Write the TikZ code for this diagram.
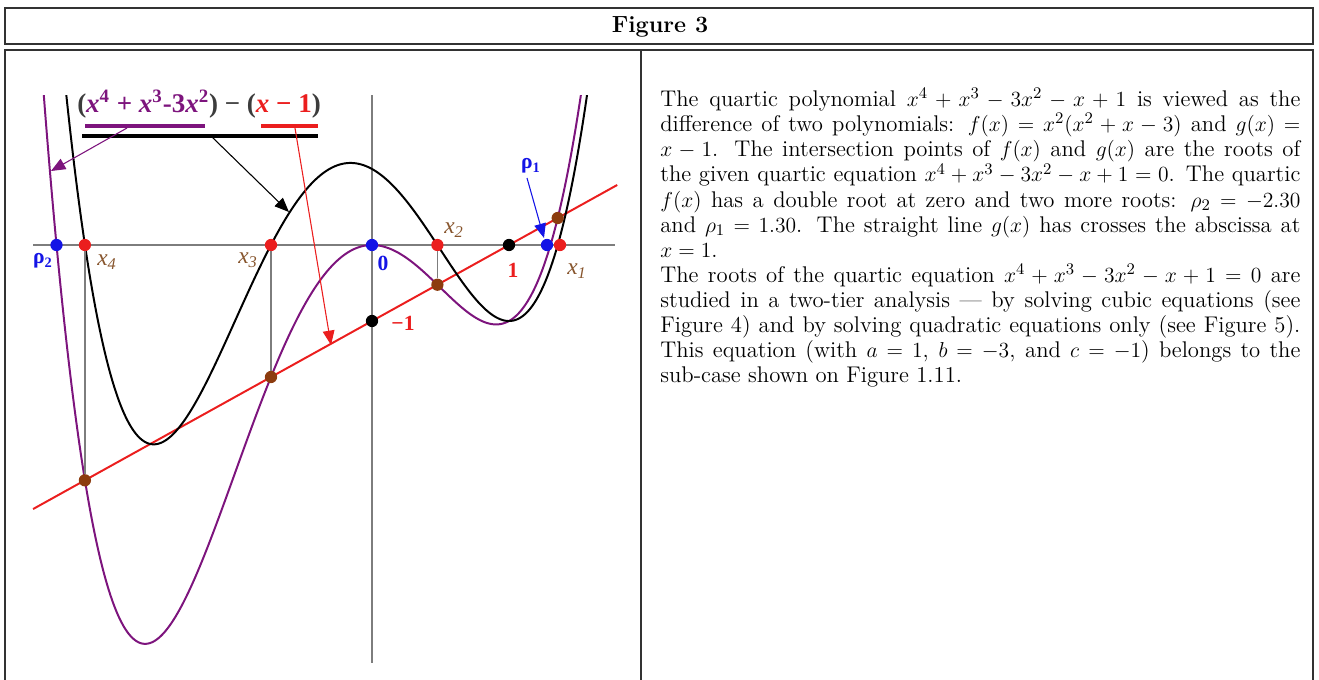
\documentclass[tikz,border=0pt]{standalone}
\usepackage{fontspec}
\newfontfamily\gfont{Liberation Serif}
\usetikzlibrary{arrows.meta}
\definecolor{fpur}{RGB}{125,20,125}
\definecolor{gred}{RGB}{235,30,30}
\definecolor{dblue}{RGB}{20,20,230}
\definecolor{rbrown}{RGB}{140,60,15}
\definecolor{lbrown}{RGB}{135,85,45}
\definecolor{axgray}{RGB}{125,125,125}
\definecolor{frame}{RGB}{50,50,50}
\definecolor{parc}{RGB}{60,60,60}
\tikzset{
  tabline/.style={draw=frame,line width=0.6pt},
  axisline/.style={draw=axgray,line width=1.1pt},
  dropline/.style={draw=axgray,line width=0.9pt},
  fcurve/.style={draw=fpur,line width=1.1pt},
  pcurve/.style={draw=black,line width=1.1pt},
  gline/.style={draw=gred,line width=1.1pt},
  dot/.style={circle,fill=#1,inner sep=0pt,minimum size=6.8pt},
  numlab/.style={font=\gfont\bfseries\fontsize{12}{14}\selectfont,inner sep=0pt},
  xlab/.style={font=\gfont\itshape\fontsize{13}{15}\selectfont,text=lbrown,inner sep=0pt},
  ann/.style={line width=0.6pt,-{Triangle[length=8pt,width=6.5pt]}},
  bar/.style={line width=1.9pt}
}
\begin{document}
\begin{tikzpicture}[x=0.5556pt,y=-0.5556pt]
\useasboundingbox (0,0) rectangle (1319,679);
% table frame
\draw[tabline] (5,8) rectangle (1313,44);
\draw[tabline] (5,50) rectangle (1313,690);
\draw[tabline] (641,50) -- (641,690);
\node[font=\bfseries\fontsize{13}{15}\selectfont,inner sep=0pt] (title) at (660,27) {Figure 3};
% right text
\node[anchor=north west,inner sep=0pt,text width=355.6pt,align=justify,font=\fontsize{12.6}{13.95}\selectfont] (txt) at (660,88) {%
The quartic polynomial $x^4+x^3-3x^2-x+1$ is viewed as the\linebreak
difference of two polynomials: $f(x)=x^2(x^2+x-3)$ and $g(x)=$\linebreak
$x-1$. The intersection points of $f(x)$ and $g(x)$ are the roots of\linebreak
the given quartic equation $x^4+x^3-3x^2-x+1=0$. The quartic\linebreak
$f(x)$ has a double root at zero and two more roots: $\rho_2=-2.30$\linebreak
and $\rho_1=1.30$. The straight line $g(x)$ has crosses the abscissa at\linebreak
$x=1$.\\
The roots of the quartic equation $x^4+x^3-3x^2-x+1=0$ are\linebreak
studied in a two-tier analysis --- by solving cubic equations (see\linebreak
Figure 4) and by solving quadratic equations only (see Figure 5).\linebreak
This equation (with $a=1$, $b=-3$, and $c=-1$) belongs to the\linebreak
sub-case shown on Figure 1.11.};
% axes
\draw[axisline] (33,245) -- (615,245);
\draw[axisline] (372,95) -- (372,663);
% red line g(x)=x-1
\draw[gline] ({372+137*(-2.474)},{245+76*3.474}) -- ({372+137*1.79},{245-76*0.79});
% curves
\begin{scope}
\clip (20,95) rectangle (640,670);
\draw[fcurve] plot[domain=-2.45:1.6,samples=300,smooth] ({372+137*\x},{245-76*(\x*\x*(\x*\x+\x-3))});
\draw[pcurve] plot[domain=-2.3:1.65,samples=300,smooth] ({372+137*\x},{245-76*(\x*\x*(\x*\x+\x-3)-\x+1)});
\end{scope}
% dots
\node[dot=rbrown] (b4) at (84.9,480.3) {};
\node[dot=rbrown] (b3) at (271.0,377.0) {};
\node[dot=rbrown] (b2) at (437.4,284.7) {};
\node[dot=rbrown] (b1) at (557.7,218.0) {};
\node[dot=gred] (r4) at (84.9,245) {};
\node[dot=gred] (r3) at (271.0,245) {};
\node[dot=gred] (r2) at (437.4,245) {};
\node[dot=gred] (r1) at (560,245) {};
\draw[dropline] (r4) -- (b4);
\draw[dropline] (r3) -- (b3);
\draw[dropline] (r2) -- (b2);
\node[dot=dblue] (rho2) at (56.5,245) {};
\node[dot=dblue] (zero) at (372,245) {};
\node[dot=dblue] (rho1) at (547,245) {};
\node[dot=black] (one) at (509,245) {};
\node[dot=black] (mone) at (372,321) {};
% labels
\node[numlab,text=dblue] (lrho2) at (43,261) {ρ\textsubscript{2}};
\node[numlab,text=dblue] (lrho1) at (531,166) {ρ\textsubscript{1}};
\node[numlab,text=dblue] (lzero) at (383,263) {0};
\node[numlab,text=gred] (lone) at (513,270) {1};
\node[numlab,text=gred] (lmone) at (403,323) {−1};
\node[xlab] (lx4) at (107,262) {x\textsubscript{4}};
\node[xlab] (lx3) at (248,260) {x\textsubscript{3}};
\node[xlab] (lx2) at (454,230) {x\textsubscript{2}};
\node[xlab] (lx1) at (577,271) {x\textsubscript{1}};
% formula
\node[font=\gfont\bfseries\fontsize{15}{17}\selectfont,inner sep=0pt] (formula) at (199,104)
 {\textcolor{parc}{(}\textcolor{fpur}{\textit{x}\textsuperscript{4} + \textit{x}\textsuperscript{3}-3\textit{x}\textsuperscript{2}}\textcolor{parc}{)} {\mdseries −} \textcolor{parc}{(}\textcolor{gred}{\textit{x} − 1}\textcolor{parc}{)}};
\coordinate (pbl) at (85,126); \coordinate (pbr) at (205,126);
\coordinate (rbl) at (261,126); \coordinate (rbr) at (318,126);
\coordinate (kbl) at (82,136); \coordinate (kbr) at (318,136);
\draw[bar,fpur] (pbl) -- (pbr);
\draw[bar,gred] (rbl) -- (rbr);
\draw[bar,black] (kbl) -- (kbr);
% annotation arrows
\coordinate (pa0) at (127,128); \coordinate (pa1) at (51,171);
\coordinate (ka0) at (212,137); \coordinate (ka1) at (289,212);
\coordinate (ra0) at (295,128); \coordinate (ra1) at (331,345);
\coordinate (ba0) at (527,178); \coordinate (ba1) at (544,238);
\draw[ann,fpur] (pa0) -- (pa1);
\draw[ann,black] (ka0) -- (ka1);
\draw[ann,gred] (ra0) -- (ra1);
\draw[ann,dblue] (ba0) -- (ba1);
\end{tikzpicture}
\end{document}
